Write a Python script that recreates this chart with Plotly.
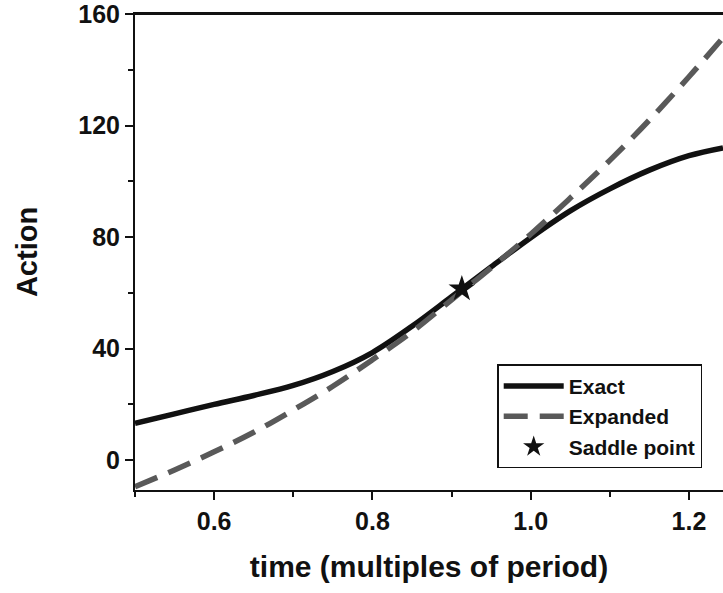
import plotly.graph_objects as go

# Data
exact_t = [0.5, 0.55, 0.6, 0.65, 0.7, 0.75, 0.8, 0.85, 0.9, 0.95, 1.0, 1.05, 1.1, 1.15, 1.2, 1.243]
exact_s = [13.2, 16.6, 20.0, 23.2, 26.8, 31.8, 38.6, 48.0, 58.6, 69.3, 79.8, 89.4, 97.3, 104.0, 109.2, 112.0]

exp_t = [0.5, 0.55, 0.6, 0.65, 0.7, 0.75, 0.8, 0.85, 0.9, 0.95, 1.0, 1.05, 1.1, 1.15, 1.2, 1.243]
exp_s = [-9.5, -3.5, 3.0, 10.0, 18.0, 26.5, 36.0, 46.0, 57.5, 69.0, 81.0, 94.0, 107.5, 122.0, 137.5, 151.5]

saddle_t = [0.913]
saddle_s = [61.4]

x_ticks = [0.6, 0.8, 1.0, 1.2]
x_ticktext = ["0.6", "0.8", "1.0", "1.2"]
y_ticks = [0, 40, 80, 120, 160]
y_ticktext = ["0", "40", "80", "120", "160"]

FONT = "Liberation Sans, Arial, sans-serif"
INK = "#111111"

fig = go.Figure()
fig.add_trace(go.Scatter(x=exact_t, y=exact_s, mode="lines", name="<b>Exact</b>",
                         line=dict(color=INK, width=5.5, shape="spline", smoothing=1.0)))
fig.add_trace(go.Scatter(x=exp_t, y=exp_s, mode="lines", name="<b>Expanded</b>",
                         line=dict(color="#595959", width=5.5, dash="24px,12px", shape="spline")))
fig.add_trace(go.Scatter(x=saddle_t, y=saddle_s, mode="markers", name="<b>Saddle point</b>",
                         marker=dict(symbol="star", size=20, color=INK)))

# top frame line (axis mirror)
fig.add_shape(type="line", xref="paper", yref="paper", x0=0, x1=1, y0=1, y1=1,
              line=dict(color=INK, width=2), layer="above")

fig.update_layout(
    width=723, height=593,
    margin=dict(l=135, r=0, t=12, b=103),
    paper_bgcolor="white", plot_bgcolor="white",
    font=dict(family=FONT, color=INK),
    showlegend=True,
    legend=dict(x=0.616, y=0.264, xanchor="left", yanchor="top",
                bordercolor=INK, borderwidth=1.5, bgcolor="white",
                font=dict(size=21, family=FONT, color=INK),
                tracegroupgap=0, itemwidth=60),
    xaxis=dict(range=[0.5, 1.243], showgrid=False, zeroline=False,
               showline=True, linecolor=INK, linewidth=2, mirror=True,
               ticks="outside", ticklen=8, tickwidth=2, tickcolor=INK,
               tickvals=x_ticks, ticktext=["<b>%s</b>" % t for t in x_ticktext],
               tickfont=dict(size=25, family=FONT, color=INK),
               ticklabeloverflow="allow",
               minor=dict(dtick=0.1, tick0=0.5, ticks="outside", ticklen=5, tickwidth=2, tickcolor=INK),
               title=dict(text="<b>time (multiples of period)</b>", font=dict(size=30, family=FONT, color=INK),
                          standoff=22)),
    yaxis=dict(range=[-10.7, 160], showgrid=False, zeroline=False,
               showline=True, linecolor=INK, linewidth=2, mirror=False,
               ticks="outside", ticklen=8, tickwidth=2, tickcolor=INK,
               tickvals=y_ticks, ticktext=["<b>%s</b>" % t for t in y_ticktext],
               tickfont=dict(size=25, family=FONT, color=INK),
               ticklabeloverflow="allow",
               minor=dict(dtick=20, tick0=0, ticks="outside", ticklen=5, tickwidth=2, tickcolor=INK),
               title=dict(text="<b>Action</b>", font=dict(size=29, family=FONT, color=INK),
                          standoff=32)),
)

fig.write_html("out.html")
